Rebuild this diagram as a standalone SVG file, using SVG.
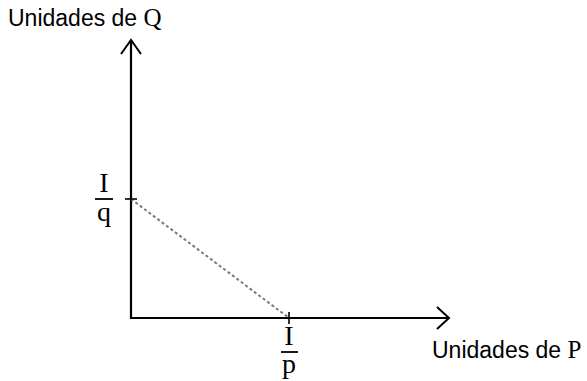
<svg xmlns="http://www.w3.org/2000/svg" width="587" height="381" viewBox="0 0 587 381">
<style>
.axis{stroke:#000;stroke-width:2.2;fill:none}
.head{stroke:#000;stroke-width:2;fill:none}
.tick{stroke:#000;stroke-width:1.6}
.dash{stroke:#7a7a7a;stroke-width:2;stroke-dasharray:3,2.5;fill:none}
.lab{font-family:"Liberation Sans",Arial,sans-serif;font-size:23px;fill:#000}
.ser{font-family:"Liberation Serif","Times New Roman",serif;font-size:25px}
.frac{font-family:"Liberation Serif","Times New Roman",serif;font-size:28px;fill:#000;text-anchor:middle}
.bar{stroke:#000;stroke-width:1.8}
</style>
<rect width="587" height="381" fill="#fff"/>
<g id="connectors">
<path class="axis" d="M131,40 V318 H449"/>
<path class="head" d="M121,54 L131,40 L141,54"/>
<path class="head" d="M437,307 L449,318 L437,329"/>
<path class="dash" d="M131,199 L289,318"/>
</g>
<g id="yticks">
<line class="tick" x1="125" y1="199" x2="137" y2="199"/>
</g>
<g id="xticks">
<line class="tick" x1="289" y1="312" x2="289" y2="324"/>
</g>
<g id="ylabel"><text class="lab" x="8" y="26">Unidades de <tspan class="ser">Q</tspan></text></g>
<g id="xlabel"><text class="lab" x="432" y="358">Unidades de <tspan class="ser">P</tspan></text></g>
<g id="frac-q">
<text class="frac" x="104" y="192">I</text>
<line class="bar" x1="95" y1="199" x2="113" y2="199"/>
<text class="frac" x="104" y="221">q</text>
</g>
<g id="frac-p">
<text class="frac" x="289" y="345">I</text>
<line class="bar" x1="281" y1="352" x2="298" y2="352"/>
<text class="frac" x="289" y="373">p</text>
</g>
</svg>
